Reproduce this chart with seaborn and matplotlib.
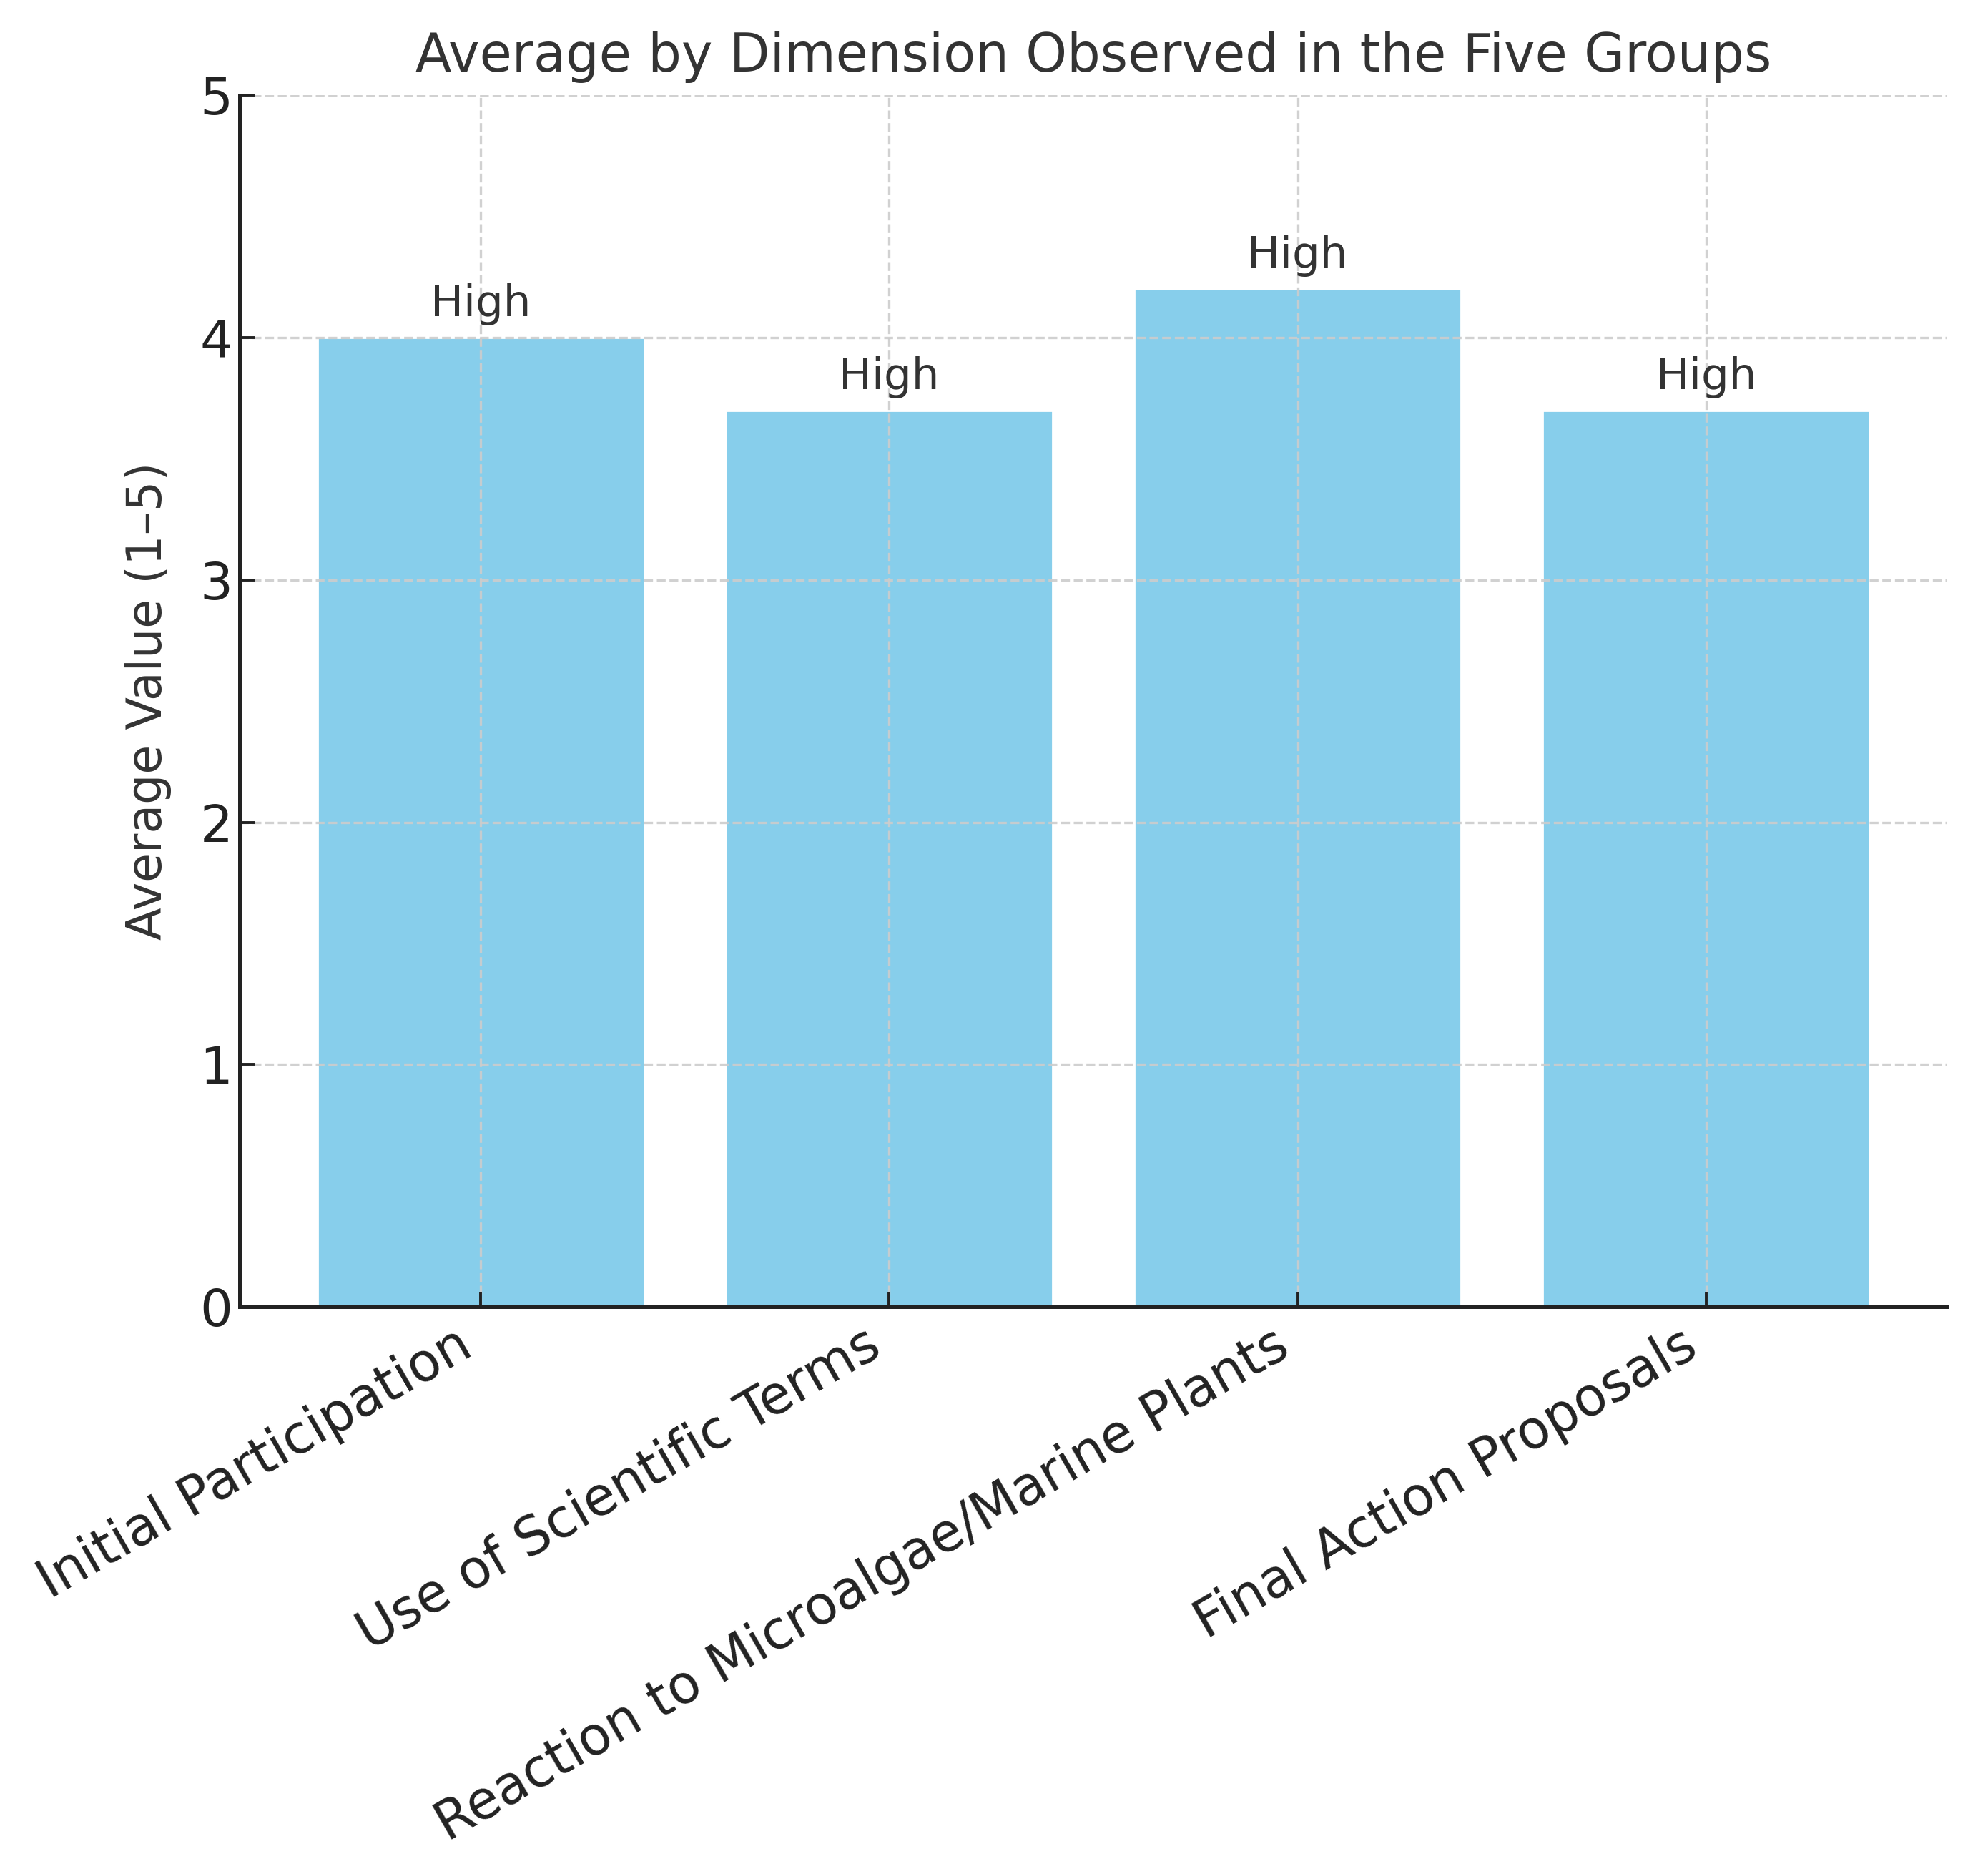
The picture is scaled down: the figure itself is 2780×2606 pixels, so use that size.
import matplotlib
matplotlib.use("Agg")
import matplotlib.pyplot as plt
import seaborn as sns
import pandas as pd

categories = ["Initial Participation", "Use of Scientific Terms",
              "Reaction to Microalgae/Marine Plants", "Final Action Proposals"]
values = [4.0, 3.7, 4.2, 3.7]
level_labels = ["High", "High", "High", "High"]
yticks = [0, 1, 2, 3, 4, 5]

sns.set_style("white")
plt.rcParams['font.family'] = ['DejaVu Sans']
text_color = "#333333"
spine_color = "#222222"

df = pd.DataFrame({"Dimension": categories, "Value": values})

fig = plt.figure(figsize=(13.9, 13.03), dpi=200)
ax = fig.add_axes([0.1205, 0.2989, 0.859, 0.650])

sns.barplot(data=df, x="Dimension", y="Value", color="#87CEEB", saturation=1,
            width=0.8, ax=ax, zorder=1)

for i, (v, lab) in enumerate(zip(values, level_labels)):
    ax.text(i, v + 0.05, lab, ha="center", va="bottom", fontsize=22, color=text_color)

ax.set_xlim(-0.59, len(categories) - 1 + 0.59)
ax.set_ylim(0, 5)
ax.set_yticks(yticks)
ax.set_xlabel("")
ax.set_ylabel("Average Value (1–5)", fontsize=24, color=text_color, labelpad=14)
ax.set_title("Average by Dimension Observed in the Five Groups", fontsize=26.5,
             color=text_color, pad=12)

ax.set_xticks(range(len(categories)))
ax.set_xticklabels(categories, rotation=30, ha="right", rotation_mode="default",
                   fontsize=26.5, color="#222222")
ax.tick_params(axis="x", pad=6)
ax.tick_params(axis="y", labelsize=26, labelcolor="#222222")
ax.tick_params(axis="both", direction="in", length=7.5, width=1.4,
               color=spine_color, bottom=True, left=True)

ax.set_axisbelow(False)
ax.grid(True, axis="both", linestyle="--", color="#cccccc", linewidth=1.2, alpha=0.9)

for side in ["top", "right"]:
    ax.spines[side].set_visible(False)
for side in ["left", "bottom"]:
    ax.spines[side].set_color(spine_color)
    ax.spines[side].set_linewidth(1.8)
    ax.spines[side].set_zorder(4)

fig.savefig("out.png", dpi=200)
